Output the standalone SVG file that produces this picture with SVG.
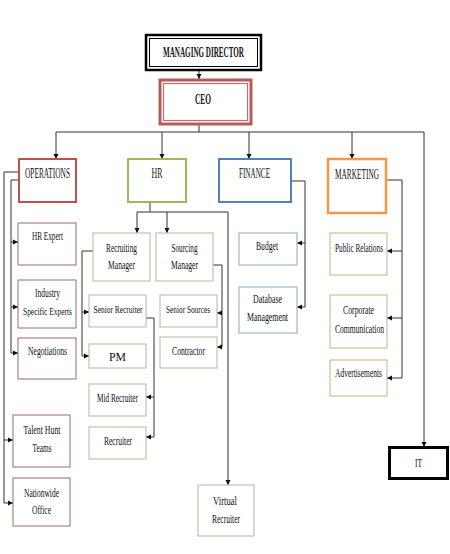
<svg xmlns="http://www.w3.org/2000/svg" width="450" height="554" viewBox="0 0 450 554">
<defs>
<marker id="ah" markerUnits="userSpaceOnUse" markerWidth="6" markerHeight="6" refX="5" refY="3" orient="auto">
<path d="M0,0.5 L5,3 L0,5.5 Z" fill="#111"/>
</marker>
<style>
.t{font-family:"Liberation Serif","Times New Roman",serif;font-size:12.5px;fill:#111;text-anchor:middle}
.h{font-size:14px}
.s{font-size:10.5px}
.b{font-weight:bold}
.c{fill:none;stroke:#333;stroke-width:1}
.a{marker-end:url(#ah)}
.box{fill:#fff}
.ops{stroke:#9e6a6a;stroke-width:1}
.hrc{stroke:#b4b898;stroke-width:1}
.fin{stroke:#86a9b9;stroke-width:1}
.mkt{stroke:#cdb080;stroke-width:1}
</style>
</defs>
<rect width="450" height="554" fill="#fff"/>

<g id="connectors">
<path class="c a" d="M199,71 V79"/>
<path class="c" d="M199,125 V132 M56,132 H424"/>
<path class="c a" d="M56,132 V159"/>
<path class="c a" d="M162,132 V159"/>
<path class="c a" d="M249,132 V159"/>
<path class="c a" d="M352,132 V159"/>
<path class="c a" d="M424,132 V447"/>
<path class="c a" d="M19,172 H4 V503 H13"/>
<path class="c a" d="M4,440 H13"/>
<path class="c a" d="M19,180 H11 V353 H18"/>
<path class="c a" d="M11,242 H18"/>
<path class="c a" d="M11,307 H18"/>
<path class="c" d="M150,202 V212 M137,212 H228"/>
<path class="c a" d="M228,212 V485"/>
<path class="c a" d="M137,212 V233"/>
<path class="c a" d="M167,212 V233"/>
<path class="c a" d="M93,251 H82 V356 H89"/>
<path class="c a" d="M82,312 H89"/>
<path class="c a" d="M146,318 H154 V437 H146"/>
<path class="c a" d="M154,397 H146"/>
<path class="c a" d="M213,265 H222 V347 H217"/>
<path class="c a" d="M222,313 H217"/>
<path class="c a" d="M291,181 H305 V307 H297"/>
<path class="c a" d="M305,243 H297"/>
<path class="c a" d="M386,180 H402 V378 H387"/>
<path class="c a" d="M402,251 H387"/>
<path class="c a" d="M402,318 H387"/>
</g>

<g id="md">
<rect class="box" x="146" y="35" width="115" height="35" stroke="#000" stroke-width="2.5"/>
<rect x="149.5" y="38.5" width="108" height="28" fill="none" stroke="#000" stroke-width="1"/>
<text class="t h b" x="203.5" y="57" textLength="81" lengthAdjust="spacingAndGlyphs">MANAGING DIRECTOR</text>
</g>
<g id="ceo">
<rect class="box" x="160" y="80" width="91" height="44" stroke="#b85a5a" stroke-width="3"/>
<rect x="163.5" y="83.5" width="84" height="37" fill="none" stroke="#c07070" stroke-width="1.2"/>
<text class="t h b" x="203" y="104" textLength="16" lengthAdjust="spacingAndGlyphs">CEO</text>
</g>

<g id="operations">
<rect class="box" x="19" y="159" width="57" height="43" stroke="#c0504d" stroke-width="2"/>
<text class="t h" x="47.5" y="178" textLength="45" lengthAdjust="spacingAndGlyphs">OPERATIONS</text>
</g>
<g id="hr">
<rect class="box" x="128" y="159" width="58" height="43" stroke="#9bbb59" stroke-width="2"/>
<text class="t h" x="157" y="178" textLength="11" lengthAdjust="spacingAndGlyphs">HR</text>
</g>
<g id="finance">
<rect class="box" x="219" y="159" width="72" height="43" stroke="#4f81bd" stroke-width="2"/>
<text class="t h" x="254.5" y="178" textLength="31" lengthAdjust="spacingAndGlyphs">FINANCE</text>
</g>
<g id="marketing">
<rect class="box" x="328" y="159" width="58" height="54" stroke="#f79646" stroke-width="2.5"/>
<text class="t h" x="357" y="179" textLength="44" lengthAdjust="spacingAndGlyphs">MARKETING</text>
</g>

<g id="hr-expert">
<rect class="box ops" x="18" y="223" width="58" height="42"/>
<text class="t" x="47.5" y="240" textLength="31" lengthAdjust="spacingAndGlyphs">HR Expert</text>
</g>
<g id="industry-experts">
<rect class="box ops" x="18" y="280" width="58" height="48"/>
<text class="t" x="47.5" y="297" textLength="25" lengthAdjust="spacingAndGlyphs">Industry</text>
<text class="t s" x="47.5" y="315" textLength="49" lengthAdjust="spacingAndGlyphs">Specific Experts</text>
</g>
<g id="negotiations">
<rect class="box ops" x="18" y="338" width="58" height="41"/>
<text class="t" x="47.5" y="355" textLength="39" lengthAdjust="spacingAndGlyphs">Negotiations</text>
</g>
<g id="talent-hunt">
<rect class="box ops" x="13" y="415" width="57" height="52"/>
<text class="t" x="42" y="434" textLength="37" lengthAdjust="spacingAndGlyphs">Talent Hunt</text>
<text class="t" x="42" y="452" textLength="19" lengthAdjust="spacingAndGlyphs">Teams</text>
</g>
<g id="nationwide">
<rect class="box ops" x="13" y="478" width="57" height="48"/>
<text class="t" x="41.5" y="497" textLength="35" lengthAdjust="spacingAndGlyphs">Nationwide</text>
<text class="t" x="41.5" y="514" textLength="19" lengthAdjust="spacingAndGlyphs">Office</text>
</g>

<g id="recruiting-manager">
<rect class="box hrc" x="93" y="233" width="57" height="48"/>
<text class="t" x="121.5" y="252" textLength="31" lengthAdjust="spacingAndGlyphs">Recruiting</text>
<text class="t" x="121.5" y="269" textLength="27" lengthAdjust="spacingAndGlyphs">Manager</text>
</g>
<g id="sourcing-manager">
<rect class="box hrc" x="156" y="233" width="57" height="48"/>
<text class="t" x="184.5" y="252" textLength="26" lengthAdjust="spacingAndGlyphs">Sourcing</text>
<text class="t" x="184.5" y="269" textLength="27" lengthAdjust="spacingAndGlyphs">Manager</text>
</g>
<g id="senior-recruiter">
<rect class="box hrc" x="89" y="295" width="57" height="32"/>
<text class="t s" x="118" y="313" textLength="49" lengthAdjust="spacingAndGlyphs">Senior Recruiter</text>
</g>
<g id="pm">
<rect class="box hrc" x="89" y="344" width="57" height="24"/>
<text class="t" x="117.5" y="361" textLength="17" lengthAdjust="spacingAndGlyphs">PM</text>
</g>
<g id="mid-recruiter">
<rect class="box hrc" x="89" y="384" width="57" height="32"/>
<text class="t" x="117.5" y="402" textLength="41" lengthAdjust="spacingAndGlyphs">Mid Recruiter</text>
</g>
<g id="recruiter">
<rect class="box hrc" x="89" y="427" width="57" height="32"/>
<text class="t" x="118" y="445" textLength="28" lengthAdjust="spacingAndGlyphs">Recruiter</text>
</g>
<g id="senior-sources">
<rect class="box hrc" x="160" y="295" width="57" height="32"/>
<text class="t s" x="188" y="313" textLength="44" lengthAdjust="spacingAndGlyphs">Senior Sources</text>
</g>
<g id="contractor">
<rect class="box hrc" x="160" y="337" width="57" height="31"/>
<text class="t" x="188.5" y="355" textLength="33" lengthAdjust="spacingAndGlyphs">Contractor</text>
</g>
<g id="virtual-recruiter">
<rect class="box hrc" x="198" y="485" width="56" height="51"/>
<text class="t" x="225" y="505" textLength="24" lengthAdjust="spacingAndGlyphs">Virtual</text>
<text class="t" x="226" y="523" textLength="28" lengthAdjust="spacingAndGlyphs">Recruiter</text>
</g>

<g id="budget">
<rect class="box fin" x="239" y="233" width="58" height="32"/>
<text class="t" x="267" y="250" textLength="22" lengthAdjust="spacingAndGlyphs">Budget</text>
</g>
<g id="database-management">
<rect class="box fin" x="239" y="287" width="58" height="46"/>
<text class="t" x="267.5" y="303" textLength="29" lengthAdjust="spacingAndGlyphs">Database</text>
<text class="t" x="267.5" y="321" textLength="41" lengthAdjust="spacingAndGlyphs">Management</text>
</g>

<g id="public-relations">
<rect class="box mkt" x="330" y="233" width="57" height="42"/>
<text class="t" x="359" y="252" textLength="48" lengthAdjust="spacingAndGlyphs">Public Relations</text>
</g>
<g id="corporate-communication">
<rect class="box mkt" x="330" y="295" width="57" height="53"/>
<text class="t" x="358.5" y="314" textLength="31" lengthAdjust="spacingAndGlyphs">Corporate</text>
<text class="t" x="359.5" y="333" textLength="49" lengthAdjust="spacingAndGlyphs">Communication</text>
</g>
<g id="advertisements">
<rect class="box mkt" x="330" y="360" width="57" height="36"/>
<text class="t" x="358.5" y="377" textLength="47" lengthAdjust="spacingAndGlyphs">Advertisements</text>
</g>

<g id="it">
<rect class="box" x="389.5" y="447.5" width="58" height="31" stroke="#000" stroke-width="3"/>
<text class="t" x="418.5" y="467" textLength="7" lengthAdjust="spacingAndGlyphs">IT</text>
</g>
</svg>
